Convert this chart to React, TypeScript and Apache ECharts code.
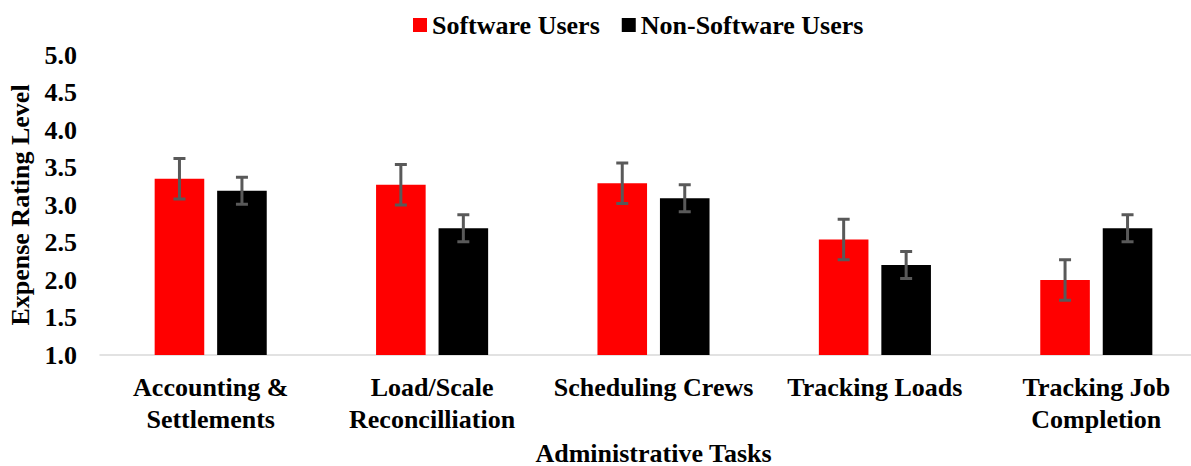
import React, { useEffect, useRef } from "react";
import * as echarts from "echarts";

const categories = [
  "Accounting &\nSettlements",
  "Load/Scale\nReconcilliation",
  "Scheduling Crews",
  "Tracking Loads",
  "Tracking Job\nCompletion",
];
const softwareUsers = [3.35, 3.27, 3.29, 2.54, 2.0];
const softwareErr = [0.27, 0.27, 0.27, 0.27, 0.27];
const nonSoftwareUsers = [3.19, 2.69, 3.09, 2.2, 2.69];
const nonSoftwareErr = [0.18, 0.18, 0.18, 0.18, 0.18];

const FONT = "'Liberation Serif', 'Times New Roman', serif";
const BAR_W = 0.224;
const GAP = 0.26;

function errorSeries(values: number[], errs: number[], sign: number) {
  return {
    type: "custom",
    silent: true,
    z: 10,
    data: values.map((v, i) => [i, v - errs[i], v + errs[i]]),
    renderItem: (params: any, api: any) => {
      const idx = api.value(0);
      const band = api.size([1, 0])[0];
      const off = sign * band * (BAR_W + BAR_W * GAP) / 2;
      const lo = api.coord([idx, api.value(1)]);
      const hi = api.coord([idx, api.value(2)]);
      const x = lo[0] + off;
      const cap = 6;
      const style = { stroke: "#595959", lineWidth: 3 };
      return {
        type: "group",
        children: [
          { type: "line", shape: { x1: x, y1: lo[1], x2: x, y2: hi[1] }, style },
          { type: "line", shape: { x1: x - cap, y1: lo[1], x2: x + cap, y2: lo[1] }, style },
          { type: "line", shape: { x1: x - cap, y1: hi[1], x2: x + cap, y2: hi[1] }, style },
        ],
      };
    },
  };
}

export default function App() {
  const ref = useRef<HTMLDivElement>(null);
  useEffect(() => {
    if (!ref.current) return;
    const chart = echarts.init(ref.current, undefined, { renderer: "svg" });
    chart.setOption({
      animation: false,
      textStyle: { fontFamily: FONT, fontWeight: "bold", color: "#000" },
      legend: {
        left: 408,
        top: 7,
        itemWidth: 14,
        itemHeight: 14,
        itemGap: 22,
        icon: "rect",
        textStyle: { fontFamily: FONT, fontWeight: "bold", fontSize: 26, color: "#000" },
        data: ["Software Users", "Non-Software Users"],
      },
      grid: {
        left: 100,
        right: -16,
        top: 55,
        bottom: 111,
        containLabel: false,
        outerBoundsMode: "none",
      },
      xAxis: {
        type: "category",
        data: categories,
        name: "Administrative Tasks",
        nameLocation: "middle",
        nameGap: 87,
        nameTextStyle: {
          fontFamily: FONT,
          fontWeight: "bold",
          fontSize: 26,
          lineHeight: 22,
          color: "#000",
        },
        axisLine: { lineStyle: { color: "#d9d9d9", width: 1.5 } },
        axisTick: { show: false },
        axisLabel: {
          interval: 0,
          margin: 16,
          fontFamily: FONT,
          fontWeight: "bold",
          fontSize: 26,
          lineHeight: 32,
          color: "#000",
        },
      },
      yAxis: {
        type: "value",
        min: 1,
        max: 5,
        interval: 0.5,
        name: "Expense Rating Level",
        nameLocation: "middle",
        nameGap: 65,
        nameTextStyle: { fontFamily: FONT, fontWeight: "bold", fontSize: 26, color: "#000" },
        axisLine: { show: false },
        axisTick: { show: false },
        splitLine: { show: false },
        axisLabel: {
          margin: 23,
          fontFamily: FONT,
          fontWeight: "bold",
          fontSize: 26,
          color: "#000",
          formatter: (v: number) => v.toFixed(1),
        },
      },
      series: [
        {
          name: "Software Users",
          type: "bar",
          data: softwareUsers,
          barWidth: BAR_W * 100 + "%",
          barGap: GAP * 100 + "%",
          itemStyle: { color: "#ff0000" },
        },
        {
          name: "Non-Software Users",
          type: "bar",
          data: nonSoftwareUsers,
          barWidth: BAR_W * 100 + "%",
          barGap: GAP * 100 + "%",
          itemStyle: { color: "#000000" },
        },
        errorSeries(softwareUsers, softwareErr, -1),
        errorSeries(nonSoftwareUsers, nonSoftwareErr, 1),
      ],
    });
    return () => chart.dispose();
  }, []);
  return (
    <div
      ref={ref}
      style={{ position: "absolute", left: 0, top: 0, width: 1191, height: 466, background: "#fff" }}
    />
  );
}
